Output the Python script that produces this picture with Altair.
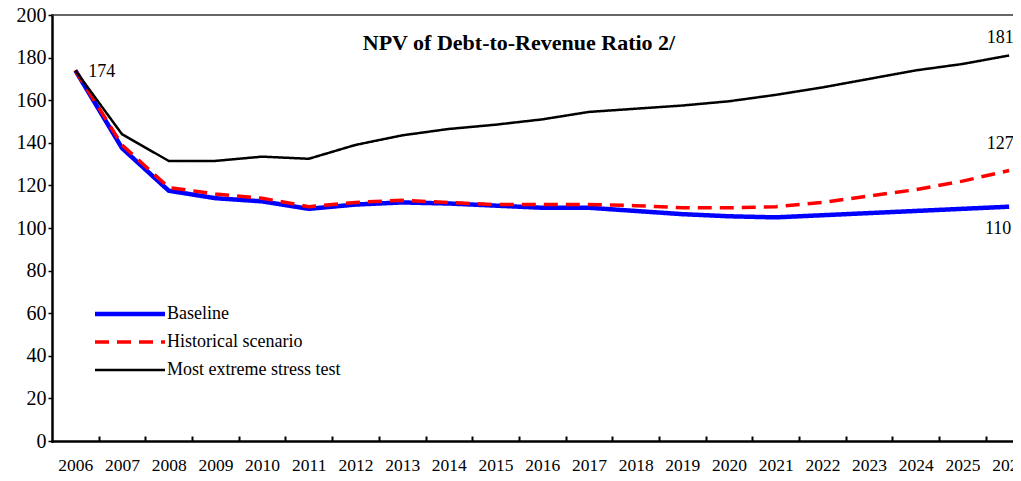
import altair as alt
import pandas as pd

years = list(range(2006, 2027))
baseline = [174, 137.5, 117.5, 114, 112.5, 109, 111, 112, 111.5, 110.5, 109.5,
            109.5, 108, 106.5, 105.5, 105, 106, 107, 108, 109, 110]
historical = [174, 139, 119, 116, 114, 110, 112, 113, 112, 111, 111,
              111, 110.5, 109.5, 109.5, 110, 112, 115, 118, 122, 127]
stress = [174, 144, 131.5, 131.5, 133.5, 132.5, 139, 143.5, 146.5, 148.5, 151,
          154.5, 156, 157.5, 159.5, 162.5, 166, 170, 174, 177, 181]
series_names = ["Baseline", "Historical scenario", "Most extreme stress test"]
y_ticks = [0, 20, 40, 60, 80, 100, 120, 140, 160, 180, 200]
boundaries = [y + 0.5 for y in years]
title_text = "NPV of Debt-to-Revenue Ratio 2/"

rows = []
for name, vals in zip(series_names, [baseline, historical, stress]):
    for yr, v in zip(years, vals):
        rows.append({"year": yr, "value": v, "series": name})
df = pd.DataFrame(rows)

labels_df = pd.DataFrame([
    {"year": 2006, "value": 174, "text": "174", "kind": "start"},
    {"year": 2026, "value": 181, "text": "181", "kind": "s"},
    {"year": 2026, "value": 127, "text": "127", "kind": "h"},
    {"year": 2026, "value": 110, "text": "110", "kind": "b"},
])

FONT = "Liberation Serif"
W, H = 961, 426
x_dom = [2005.5, 2005.5 + W / 46.69]

xs = alt.Scale(domain=x_dom, nice=False, zero=False)
ys = alt.Scale(domain=[0, 200], nice=False)

y_axis = alt.Axis(values=y_ticks, title=None, grid=False, tickSize=4,
                  tickColor="black", tickWidth=1.5, labelFont=FONT,
                  labelFontSize=20, labelColor="black", labelPadding=2,
                  domainColor="black", domainWidth=2.5)

base = alt.Chart(df)

lines = base.mark_line(clip=True).encode(
    x=alt.X("year:Q", scale=xs,
            axis=alt.Axis(values=years, format="d", title=None, grid=False,
                          ticks=False, labelFont=FONT, labelFontSize=17.5,
                          labelColor="black", labelPadding=15, domainColor="black",
                          domainWidth=2.5, labelFlush=False, labelOverlap=False)),
    y=alt.Y("value:Q", scale=ys, axis=y_axis),
    color=alt.Color("series:N",
                    scale=alt.Scale(domain=series_names, range=["#0000FF", "#FF0000", "#000000"]),
                    legend=alt.Legend(title=None, orient="none", legendX=69, legendY=290,
                                      symbolType="M-7,0H7", symbolSize=100,
                                      labelFont=FONT, labelFontSize=18, labelColor="black",
                                      labelOffset=28, rowPadding=10, labelLimit=400)),
    strokeDash=alt.StrokeDash("series:N",
                              scale=alt.Scale(domain=series_names, range=[[1, 0], [14, 8], [1, 0]]),
                              legend=None),
    strokeWidth=alt.StrokeWidth("series:N",
                                scale=alt.Scale(domain=series_names, range=[4.5, 2.5, 1]),
                                legend=None),
)

ticks = alt.Chart(pd.DataFrame({"b": boundaries})).mark_point(opacity=0).encode(
    x=alt.X("b:Q", scale=xs,
            axis=alt.Axis(orient="top", offset=-H, values=boundaries, labels=False,
                          tickSize=5, tickWidth=2, tickColor="black", domain=False,
                          grid=False, title=None)),
)

top = alt.Chart(pd.DataFrame({"v": [200]})).mark_rule(color="#333333", strokeWidth=1.5).encode(
    y=alt.Y("v:Q", scale=ys, axis=y_axis)
)

lbl = alt.Chart(labels_df)
def lab(kind, align, dx, dy):
    return lbl.transform_filter(f"datum.kind == '{kind}'").mark_text(
        font=FONT, fontSize=18, align=align, dx=dx, dy=dy, color="black").encode(
        x=alt.X("year:Q", scale=xs, axis=None),
        y=alt.Y("value:Q", scale=ys, axis=y_axis),
        text="text:N")

start_lbl = lab("start", "left", 13, 2)
s_lbl = lab("s", "center", -9, -17)
h_lbl = lab("h", "center", -9, -26)
b_lbl = lab("b", "center", -11, 22)

title = alt.Chart(pd.DataFrame({"t": [title_text]})).mark_text(
    font=FONT, fontSize=22, fontWeight="bold", color="black", align="center", baseline="middle"
).encode(x=alt.value(467), y=alt.value(28), text="t:N")

chart = alt.layer(lines, top, ticks, start_lbl, s_lbl, h_lbl, b_lbl, title).resolve_axis(
    x="independent"
).properties(
    width=W, height=H,
    autosize=alt.AutoSizeParams(type="none"),
    padding={"left": 44, "top": 7, "right": 0, "bottom": 32},
).configure_view(stroke=None).configure_axis(domainCap="square")

chart.save("out.html", embed_options={"renderer": "svg", "actions": False})
